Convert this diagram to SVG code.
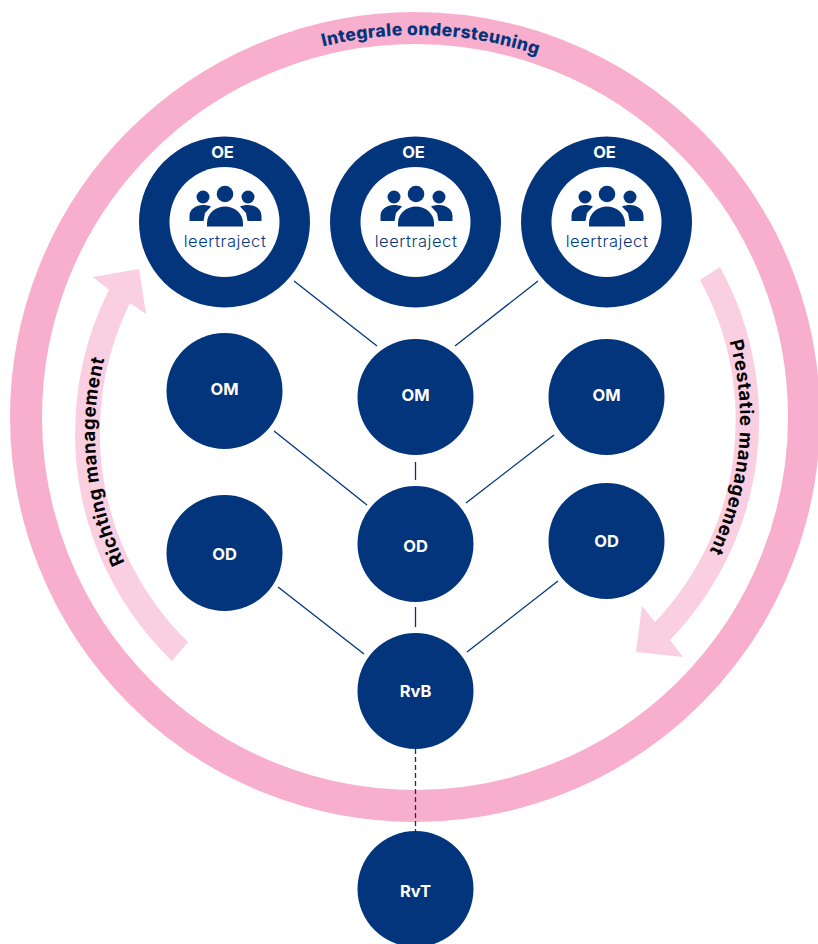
<svg xmlns="http://www.w3.org/2000/svg" xmlns:xlink="http://www.w3.org/1999/xlink" width="818" height="944" viewBox="0 0 818 944">
<style>
.n{fill:#03357c}
.t{fill:#fff;font:700 16.500px Inter,"Liberation Sans",sans-serif;text-anchor:middle}
.l{fill:#03357c;font:300 16.500px Inter,"Liberation Sans",sans-serif;text-anchor:middle;letter-spacing:.55px}
.c{stroke:#03357c;stroke-width:1.3;fill:none}
.a{fill:#facfe2}
.r{font:800 17.500px Inter,"Liberation Sans",sans-serif;text-anchor:middle;letter-spacing:.4px}
.m{font:700 18.500px Inter,"Liberation Sans",sans-serif;text-anchor:middle;letter-spacing:.6px}
</style>
<defs>
<g id="people" class="n">
<circle cx="-22" cy="-25" r="6.5"/><circle cx="23" cy="-25" r="6.5"/><circle cx="0" cy="-28" r="8.3"/>
<path d="M-35.500-1V-6C-35.500-13-29-17-22-17-19-17-16-16.500-14-15.500L-20-9-21.500-1ZM36.500-1V-6C36.500-13 30-17 23-17 20-17 17-16.500 15-15.500L21-9 22.500-1Z"/>
<path d="M-18 4.500V1C-18-9-9-15.500 0-15.500S18-9 18 1V4.500Z"/>
</g>
<path id="pi" d="M238.100,79A382,382 0 0 1 619.800,94"/>
<path id="pr" d="M713.300,296.800A297,297 0 0 1 684.800,592.500"/>
<path id="pl" d="M150.700,606.100A297,297 0 0 1 121.400,310.500"/>
</defs>
<rect width="818" height="944" fill="#fff"/>
<g id="ring">
<circle cx="415" cy="417" r="389" fill="none" stroke="#f8aecd" stroke-width="32"/>
<text class="r" fill="#03357c"><textPath href="#pi" startOffset="50%">Integrale ondersteuning</textPath></text>
</g>
<g id="arrow-prestatie">
<path class="a" d="M720,267A317,317 0 0 1 670,640L683,657 636,652 642,606 655,622A293,293 0 0 0 700,280Z"/>
<text class="m" fill="#000"><textPath href="#pr" startOffset="50%">Prestatie management</textPath></text>
</g>
<g id="arrow-richting">
<path class="a" d="M188,642A293,293 0 0 1 130,303L146,314 139,269 93,277 109,290A317,317 0 0 0 172,661Z"/>
<text class="m" fill="#000"><textPath href="#pl" startOffset="50%">Richting management</textPath></text>
</g>
<g id="connectors">
<path class="c" d="M294,281 377,346M538,281 455,346M274,431 367,505M554,435 466,503M415.500,462V480M278,587 364,654M558,581 467,652M415.500,607V627"/>
<path class="c" stroke-dasharray="5 3" d="M415.500,749V831"/>
</g>
<g id="oe1"><circle class="n" cx="224.500" cy="222" r="85.500"/><circle cx="224.500" cy="222" r="55" fill="#fff"/><text class="t" x="222.500" y="158">OE</text><use href="#people" x="225" y="222"/><text class="l" x="225" y="247">leertraject</text></g>
<g id="oe2"><circle class="n" cx="415.500" cy="222" r="85.500"/><circle cx="415.500" cy="222" r="55" fill="#fff"/><text class="t" x="413.500" y="158">OE</text><use href="#people" x="416" y="222"/><text class="l" x="416" y="247">leertraject</text></g>
<g id="oe3"><circle class="n" cx="606.500" cy="222" r="85.500"/><circle cx="606.500" cy="222" r="55" fill="#fff"/><text class="t" x="604.500" y="158">OE</text><use href="#people" x="607" y="222"/><text class="l" x="607" y="247">leertraject</text></g>
<g id="om1"><circle class="n" cx="224.500" cy="391" r="58"/><text class="t" x="224.500" y="395">OM</text></g>
<g id="om2"><circle class="n" cx="415.500" cy="397" r="58"/><text class="t" x="415.500" y="401">OM</text></g>
<g id="om3"><circle class="n" cx="606.500" cy="397" r="58"/><text class="t" x="606.500" y="401">OM</text></g>
<g id="od1"><circle class="n" cx="224.500" cy="553" r="58"/><text class="t" x="224.500" y="560">OD</text></g>
<g id="od2"><circle class="n" cx="415.500" cy="544" r="58"/><text class="t" x="415.500" y="552">OD</text></g>
<g id="od3"><circle class="n" cx="606.500" cy="541" r="58"/><text class="t" x="606.500" y="547">OD</text></g>
<g id="rvb"><circle class="n" cx="415.500" cy="691" r="58"/><text class="t" x="415.500" y="697">RvB</text></g>
<g id="rvt"><circle class="n" cx="415.500" cy="889" r="58"/><text class="t" x="415.500" y="897">RvT</text></g>
</svg>
